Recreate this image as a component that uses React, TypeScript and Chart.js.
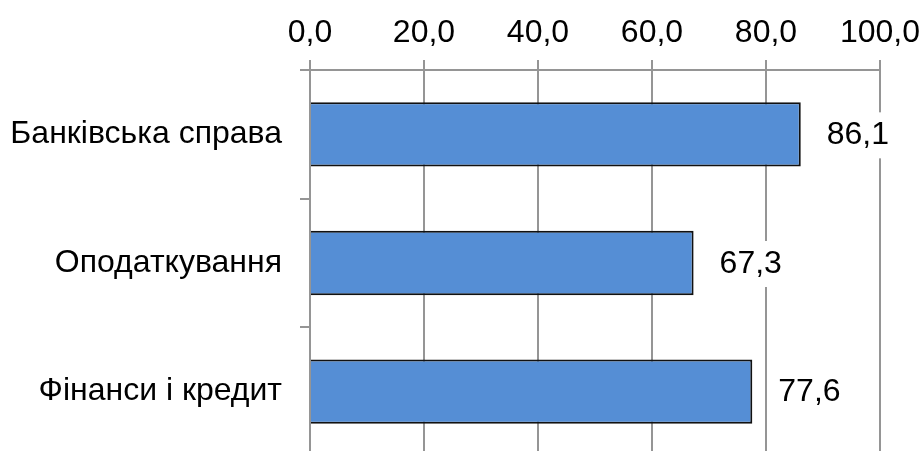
import React, { useEffect, useRef } from "react";
import { Chart, registerables } from "chart.js";

Chart.register(...registerables);

const categories = ["Банківська справа", "Оподаткування", "Фінанси і кредит"];
const values = [86.1, 67.3, 77.6];
const tickValues = [0, 20, 40, 60, 80, 100];

const fmt = (v: number) => v.toFixed(1).replace(".", ",");

const FONT = "'Liberation Sans', Arial, sans-serif";
const FS = 32;

const valueLabels = {
  id: "valueLabels",
  afterDatasetsDraw(chart: any) {
    const ctx = chart.ctx;
    const meta = chart.getDatasetMeta(0);
    ctx.save();
    ctx.font = `${FS}px ${FONT}`;
    ctx.textAlign = "left";
    ctx.textBaseline = "middle";
    meta.data.forEach((bar: any, i: number) => {
      const v = chart.data.datasets[0].data[i] as number;
      const txt = fmt(v);
      const x = bar.x + 26;
      const y = bar.y + 1;
      const w = ctx.measureText(txt).width;
      ctx.fillStyle = "#fff";
      ctx.fillRect(x - 3, y - 23, w + 6, 46);
      ctx.fillStyle = "#000";
      ctx.fillText(txt, x, y);
    });
    ctx.restore();
  },
};

export default function App() {
  const ref = useRef<HTMLCanvasElement>(null);
  useEffect(() => {
    if (!ref.current) return;
    const chart = new Chart(ref.current, {
      type: "bar",
      data: {
        labels: categories,
        datasets: [
          {
            data: values,
            backgroundColor: "#558ED5",
            borderColor: "#111",
            borderWidth: 2,
            borderSkipped: "start",
            barPercentage: 0.5,
            categoryPercentage: 1,
          },
        ],
      },
      options: {
        indexAxis: "y",
        animation: false,
        responsive: false,
        devicePixelRatio: 1,
        layout: { padding: { left: 0, right: 40, top: 0, bottom: 0 } },
        plugins: { legend: { display: false }, tooltip: { enabled: false } },
        scales: {
          x: {
            position: "top",
            min: 0,
            max: 100,
            afterBuildTicks: (scale: any) => {
              scale.ticks = tickValues.map((v) => ({ value: v }));
            },
            afterFit: (scale: any) => {
              scale.height = 70;
              scale.paddingLeft = 0;
              scale.paddingRight = 0;
            },
            ticks: {
              font: { family: FONT, size: FS },
              color: "#000",
              padding: 8,
              maxRotation: 0,
              callback: (v: any) => fmt(Number(v)),
            },
            grid: { color: "#959595", lineWidth: 2, tickLength: 10 },
            border: { display: true, color: "#959595", width: 2 },
          },
          y: {
            afterFit: (scale: any) => {
              scale.width = 310;
              scale.paddingTop = 0;
              scale.paddingBottom = 0;
            },
            ticks: {
              font: { family: FONT, size: FS },
              color: "#000",
              padding: 18,
            },
            grid: {
              drawOnChartArea: false,
              drawTicks: true,
              tickLength: 10,
              color: "#959595",
              lineWidth: 2,
            },
            border: { display: true, color: "#959595", width: 2 },
          },
        },
      },
      plugins: [valueLabels],
    });
    return () => chart.destroy();
  }, []);
  return (
    <div
      style={{
        position: "fixed",
        left: 0,
        top: 0,
        width: 920,
        height: 451,
        overflow: "hidden",
        background: "#fff",
      }}
    >
      <canvas ref={ref} width={920} height={456} style={{ display: "block" }} />
    </div>
  );
}
